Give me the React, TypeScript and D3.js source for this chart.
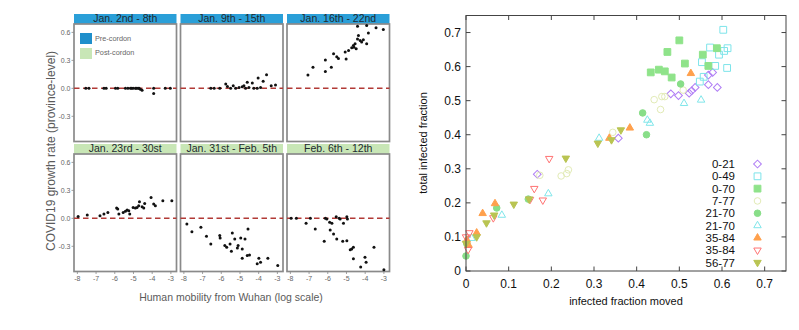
import React from "react";
import * as d3 from "d3";

// ---------- left: facet scatter (mobility vs growth) ----------
const facetTitles = [
  "Jan. 2nd - 8th",
  "Jan. 9th - 15th",
  "Jan. 16th - 22nd",
  "Jan. 23rd - 30st",
  "Jan. 31st - Feb. 5th",
  "Feb. 6th - 12th",
];
const facetPhase = ["pre", "pre", "pre", "post", "post", "post"];

const jan02 = [
  [-7.55, 0], [-7.38, 0], [-6.58, 0], [-6.46, 0], [-5.96, 0], [-5.84, 0],
  [-5.43, 0], [-5.3, 0], [-5.16, 0], [-5.1, 0], [-5.02, 0], [-4.9, 0],
  [-4.85, 0], [-4.76, 0], [-4.7, 0], [-4.63, -0.01], [-4.54, -0.02],
  [-3.92, 0], [-3.92, -0.054], [-3.3, 0], [-3.03, 0],
];
const jan09 = [
  [-6.56, 0], [-6.38, 0], [-6.08, 0], [-5.76, 0.046], [-5.67, 0.02],
  [-5.5, 0], [-5.36, 0.028], [-5.23, 0], [-5.05, 0.01], [-4.88, 0.017],
  [-4.79, 0.028], [-4.7, 0], [-4.61, 0.065], [-4.52, 0.01], [-4.34, 0.057],
  [-4.26, 0], [-4.08, 0], [-4.03, 0.11], [-3.9, 0.01], [-3.76, 0.075],
  [-3.58, 0.147], [-3.33, 0.028], [-3.1, 0.036],
];
const jan16 = [
  [-7.06, 0.143], [-6.79, 0.226], [-6.13, 0.18], [-6.13, 0.305],
  [-5.81, 0.226], [-5.69, 0.37], [-5.52, 0.34], [-5.43, 0.32],
  [-5.07, 0.39], [-5.02, 0.316], [-4.89, 0.405], [-4.72, 0.435],
  [-4.63, 0.46], [-4.6, 0.44], [-4.54, 0.478], [-4.48, 0.424],
  [-4.41, 0.53], [-4.36, 0.567], [-4.27, 0.514], [-4.19, 0.496],
  [-4.1, 0.521], [-3.92, 0.478], [-3.83, 0.593], [-4.41, 0.665],
  [-3.92, 0.675], [-3.42, 0.65], [-3.03, 0.63],
];
const jan23 = [
  [-7.96, 0.021], [-7.47, 0.035], [-6.79, 0.028], [-6.58, 0.046],
  [-6.37, 0.064], [-5.9, 0.11], [-5.84, 0.099], [-5.78, 0.046],
  [-5.55, 0.064], [-5.43, 0.075], [-5.34, 0.089], [-5.25, 0.081],
  [-5.2, 0.046], [-5.02, 0.117], [-4.9, 0.11], [-4.81, 0.117],
  [-4.72, 0.134], [-4.68, 0.177], [-4.54, 0.124], [-4.45, 0.11],
  [-4.4, 0.16], [-4.06, 0.224], [-3.92, 0.153], [-3.83, 0.134],
  [-3.43, 0.188], [-2.95, 0.188],
];
const jan31 = [
  [-7.84, -0.061], [-7.57, -0.143], [-7.09, -0.096], [-6.79, -0.192],
  [-6.56, -0.274], [-6.08, -0.185], [-6.06, -0.21], [-5.81, -0.292],
  [-5.71, -0.31], [-5.53, -0.274], [-5.46, -0.352], [-5.41, -0.157],
  [-5.28, -0.221], [-5.14, -0.317], [-5.1, -0.292], [-4.96, -0.21],
  [-4.88, -0.328], [-4.88, -0.427], [-4.73, -0.221], [-4.57, -0.114],
  [-4.61, -0.399], [-4.49, -0.392], [-4.08, -0.488], [-3.99, -0.427],
  [-3.9, -0.47], [-3.51, -0.427], [-2.98, -0.506],
];
const feb06 = [
  [-7.96, 0], [-7.68, 0], [-7.16, -0.053], [-6.93, 0], [-6.67, -0.114],
  [-6.19, -0.245], [-6.13, 0], [-6.05, -0.007], [-5.9, -0.043],
  [-5.87, -0.125], [-5.78, -0.053], [-5.69, -0.168], [-5.55, 0.017],
  [-5.52, -0.221], [-5.39, 0], [-5.34, -0.007], [-5.2, -0.245],
  [-5.16, -0.053], [-4.98, 0.017], [-4.98, -0.239], [-4.95, -0.007],
  [-4.8, -0.338], [-4.72, -0.328], [-4.63, -0.31], [-4.63, -0.434],
  [-4.24, -0.523], [-4.01, -0.416], [-3.95, -0.47], [-3.53, -0.31],
  [-3.0, -0.552],
];
const facetData = [jan02, jan09, jan16, jan23, jan31, feb06];
const mobilityTicks = [-8, -7, -6, -5, -4, -3];
const growthTicks = [0.6, 0.3, 0.0, -0.3];

// ---------- right: infected fraction scatter ----------
const seriesLabels = ["0-21", "0-49", "0-70", "7-77", "21-70", "21-70", "35-84", "35-84", "56-77"];
const s0_21 = [
  [0.568, 0.575], [0.578, 0.583], [0.568, 0.547], [0.589, 0.539], [0.537, 0.539],
  [0.529, 0.529], [0.523, 0.522], [0.498, 0.515], [0.48, 0.52], [0.357, 0.39], [0.167, 0.284],
];
const s0_49 = [
  [0.603, 0.708], [0.572, 0.656], [0.613, 0.654], [0.605, 0.646], [0.593, 0.635],
  [0.553, 0.613], [0.584, 0.602], [0.612, 0.596], [0.557, 0.57], [0.548, 0.556],
];
const s0_70 = [
  [0.433, 0.583], [0.452, 0.591], [0.466, 0.586], [0.472, 0.643], [0.482, 0.568],
  [0.5, 0.677], [0.513, 0.609], [0.555, 0.635], [0.568, 0.602], [0.588, 0.654],
];
const s7_77 = [
  [0.441, 0.503], [0.459, 0.512], [0.466, 0.512], [0.456, 0.474], [0.509, 0.531],
  [0.344, 0.407], [0.223, 0.279], [0.236, 0.286], [0.24, 0.297], [0.173, 0.281],
];
const s21_70a = [
  [0.503, 0.549], [0.414, 0.464], [0.423, 0.4], [0.072, 0.185], [0.146, 0.211],
  [0.0, 0.044], [0.002, 0.08],
];
const s21_70b = [
  [0.511, 0.492], [0.551, 0.502], [0.425, 0.443], [0.431, 0.434], [0.312, 0.39],
  [0.193, 0.227], [0.084, 0.164], [0.013, 0.096],
];
const s35_84a = [
  [0.527, 0.58], [0.384, 0.42], [0.336, 0.39], [0.068, 0.198], [0.039, 0.169],
  [0.025, 0.112], [0.002, 0.091], [0.006, 0.076],
];
const s35_84b = [
  [0.195, 0.33], [0.16, 0.242], [0.18, 0.208], [0.15, 0.21], [0.064, 0.156],
  [0.008, 0.112], [0.0, 0.1], [0.005, 0.063],
];
const s56_77 = [
  [0.234, 0.331], [0.309, 0.375], [0.341, 0.385], [0.363, 0.414], [0.148, 0.211],
  [0.112, 0.196], [0.066, 0.164], [0.048, 0.141], [0.025, 0.1], [0.0, 0.081],
];
const seriesData = [s0_21, s0_49, s0_70, s7_77, s21_70a, s21_70b, s35_84a, s35_84b, s56_77];
const fractionTicks = [0, 0.1, 0.2, 0.3, 0.4, 0.5, 0.6, 0.7];

// marker styles for the gnuplot-like series
const seriesStyle = [
  { shape: "diamond", fill: false, color: "#b07ef5" },
  { shape: "square", fill: false, color: "#7de4ea" },
  { shape: "square", fill: true, color: "#8fe38a" },
  { shape: "circle", fill: false, color: "#e2ebb6" },
  { shape: "circle", fill: true, color: "#88de88" },
  { shape: "triUp", fill: false, color: "#80e6ea" },
  { shape: "triUp", fill: true, color: "#ffa04c" },
  { shape: "triDown", fill: false, color: "#ff7373" },
  { shape: "triDown", fill: true, color: "#b9c452" },
];

const markerPath = (shape: string) => {
  if (shape === "square") return d3.symbol(d3.symbolSquare, 46)();
  if (shape === "diamond") return d3.symbol(d3.symbolSquare, 30)();
  if (shape === "circle") return d3.symbol(d3.symbolCircle, 34)();
  return d3.symbol(d3.symbolTriangle, 24)();
};
const markerRotate = (shape: string) =>
  shape === "diamond" ? 45 : shape === "triDown" ? 180 : 0;

const Marker = ({ x, y, st }: { x: number; y: number; st: any }) => (
  <path
    d={markerPath(st.shape) as string}
    transform={`translate(${x},${y}) rotate(${markerRotate(st.shape)})`}
    fill={st.fill ? st.color : "none"}
    stroke={st.color}
    strokeWidth={1}
  />
);

const LEFT_FONT = "'Liberation Sans', Arial, Helvetica, sans-serif";

const Facets = () => {
  const colX = [74, 180.5, 287];
  const panelW = 102.5;
  const rowY = [24, 154];
  const panelH = 117.5;
  const stripH = 10;
  const grey = "#5a5a5a";

  return (
    <g fontFamily={LEFT_FONT}>
      {facetData.map((pts, i) => {
        const c = i % 3;
        const r = Math.floor(i / 3);
        const x0 = colX[c];
        const y0 = rowY[r];
        const x = d3.scaleLinear().domain([-8.18, -2.7]).range([x0, x0 + panelW]);
        const y = d3.scaleLinear().domain([-0.57, 0.69]).range([y0 + panelH, y0]);
        return (
          <g key={i}>
            <rect
              x={x0}
              y={y0 - stripH}
              width={panelW}
              height={stripH}
              fill={facetPhase[i] === "pre" ? "#2a9fd8" : "#c8e6b6"}
            />
            <text x={x0 + panelW / 2} y={y0 - 1.6} textAnchor="middle" fontSize={10.5} fill="#1e2a30">
              {facetTitles[i]}
            </text>
            <rect x={x0} y={y0} width={panelW} height={panelH} fill="white" stroke="#8a8a8a" strokeWidth={1.7} />
            <line
              x1={x0}
              x2={x0 + panelW}
              y1={y(0)}
              y2={y(0)}
              stroke="#b23a36"
              strokeWidth={1.5}
              strokeDasharray="5.5,3.5"
            />
            {pts.map((d, j) => (
              <circle key={j} cx={x(d[0])} cy={y(d[1])} r={1.5} fill="#111" />
            ))}
            {c === 0 &&
              growthTicks.map((t) => (
                <g key={t}>
                  <line x1={x0 - 2.5} x2={x0} y1={y(t)} y2={y(t)} stroke="#888" strokeWidth={0.8} />
                  <text x={x0 - 3.5} y={y(t) + 2.4} textAnchor="end" fontSize={7} fill="#666">
                    {d3.format(".1f")(t).replace("−", "-")}
                  </text>
                </g>
              ))}
            {r === 1 &&
              mobilityTicks.map((t) => (
                <g key={t}>
                  <line x1={x(t)} x2={x(t)} y1={y0 + panelH} y2={y0 + panelH + 2.5} stroke="#888" strokeWidth={0.8} />
                  <text x={x(t)} y={y0 + panelH + 9.5} textAnchor="middle" fontSize={7} fill="#666">
                    {t}
                  </text>
                </g>
              ))}
          </g>
        );
      })}
      {/* legend inside first panel */}
      <rect x={80} y={33} width={12} height={11} fill="#1f8fcb" />
      <text x={95} y={40.5} fontSize={7.3} fill="#666">Pre-cordon</text>
      <rect x={80} y={48} width={12} height={11} fill="#c8e6b6" />
      <text x={95} y={55} fontSize={7.3} fill="#666">Post-cordon</text>

      <text
        transform="translate(55,151) rotate(-90)"
        textAnchor="middle"
        fontSize={12}
        fill={grey}
      >
        COVID19 growth rate (province-level)
      </text>
      <text x={231} y={301} textAnchor="middle" fontSize={10.5} fill={grey}>
        Human mobility from Wuhan (log scale)
      </text>
    </g>
  );
};

const Scatter = () => {
  const left = 466;
  const right = 786;
  const top = 15.5;
  const bottom = 271;
  const x = d3.scaleLinear().domain([0, 0.75]).range([left, right]);
  const y = d3.scaleLinear().domain([0, 0.75]).range([bottom, top]);
  const tick = 4.5;
  const axisCol = "#444";
  const fmt = (t: number) => (t === 0 ? "0" : d3.format(".1f")(t));
  const legendY = d3.scaleLinear().domain([0, 8]).range([164, 262.5]);

  return (
    <g fontFamily={LEFT_FONT}>
      {fractionTicks.map((t) => (
        <g key={"x" + t}>
          <line x1={x(t)} x2={x(t)} y1={bottom} y2={bottom - tick} stroke={axisCol} />
          <line x1={x(t)} x2={x(t)} y1={top} y2={top + tick} stroke={axisCol} />
          <text x={x(t)} y={287.5} textAnchor="middle" fontSize={12} fill="#111">
            {fmt(t)}
          </text>
        </g>
      ))}
      {fractionTicks.map((t) => (
        <g key={"y" + t}>
          <line x1={left} x2={left + tick} y1={y(t)} y2={y(t)} stroke={axisCol} />
          <line x1={right} x2={right - tick} y1={y(t)} y2={y(t)} stroke={axisCol} />
          <text x={461} y={y(t) + 4.2} textAnchor="end" fontSize={12} fill="#111">
            {fmt(t)}
          </text>
        </g>
      ))}

      {seriesData.map((pts, i) => (
        <g key={i}>
          {pts.map((d, j) => (
            <Marker key={j} x={x(d[0])} y={y(d[1])} st={seriesStyle[i]} />
          ))}
        </g>
      ))}

      <rect x={left} y={top} width={right - left} height={bottom - top} fill="none" stroke={axisCol} strokeWidth={1} />

      {seriesLabels.map((lab, i) => (
        <g key={"l" + i}>
          <text x={735} y={legendY(i) + 4} textAnchor="end" fontSize={11.5} fill="#111">
            {lab}
          </text>
          <Marker x={757.5} y={legendY(i)} st={seriesStyle[i]} />
        </g>
      ))}

      <text x={626} y={305} textAnchor="middle" fontSize={11} fill="#111">
        infected fraction moved
      </text>
      <text transform="translate(427,143) rotate(-90)" textAnchor="middle" fontSize={11} fill="#111">
        total infected fraction
      </text>
    </g>
  );
};

export default function App() {
  return (
    <svg
      width={799}
      height={330}
      style={{ position: "absolute", left: 0, top: 0, background: "white" }}
    >
      <rect width={799} height={330} fill="white" />
      <Facets />
      <Scatter />
    </svg>
  );
}
